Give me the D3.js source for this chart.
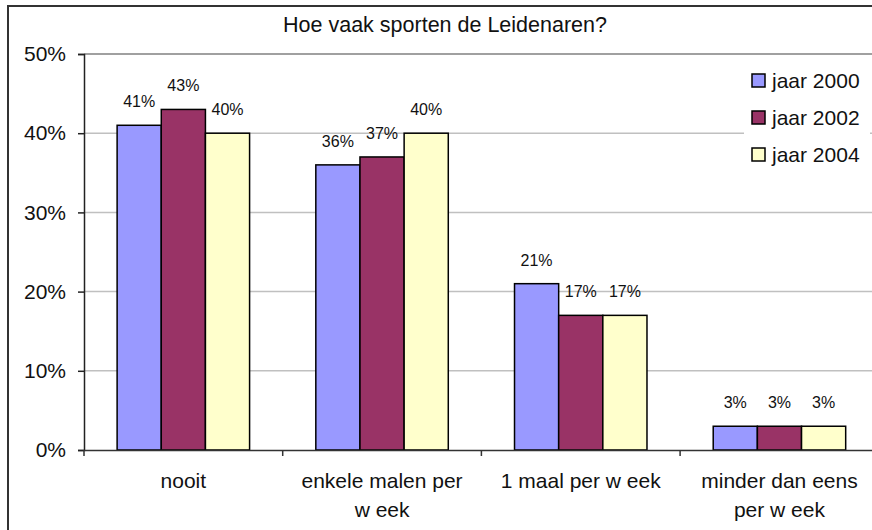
<!DOCTYPE html>
<html>
<head>
<meta charset="utf-8">
<script src="https://cdn.jsdelivr.net/npm/d3@7"></script>
<style>
  body { margin: 0; background: #fff; }
  svg { display: block; font-family: "Liberation Sans", Arial, sans-serif; }
</style>
</head>
<body>
<div class="chart"></div>
<script>
// Data
const categories = ["nooit", "enkele malen per\nw eek", "1 maal per w eek", "minder dan eens\nper w eek"];
const seriesNames = ["jaar 2000", "jaar 2002", "jaar 2004"];
const seriesColors = ["#9999ff", "#993366", "#ffffcc"];
const jaar2000 = [41, 36, 21, 3];
const jaar2002 = [43, 37, 17, 3];
const jaar2004 = [40, 40, 17, 3];
const yTicks = [0, 10, 20, 30, 40, 50];

const width = 872, height = 530;
const plot = { left: 84, top: 54, bottom: 450, catWidth: 198.7 };

const svg = d3.select(".chart").append("svg")
    .attr("width", width)
    .attr("height", height);

// outer frame
svg.append("rect")
    .attr("x", 8).attr("y", 6)
    .attr("width", 900).attr("height", 600)
    .attr("fill", "#fff")
    .attr("stroke", "#333").attr("stroke-width", 2);

// Scales
const y = d3.scaleLinear().domain([0, 50]).range([plot.bottom, plot.top]);
const x0 = d3.scaleBand()
    .domain(categories)
    .range([plot.left, plot.left + plot.catWidth * categories.length])
    .paddingInner(0).paddingOuter(0);
// gap width 150% of a bar: 3 bars + 1.5 bar gap per category
const barW = x0.bandwidth() / 4.5;
const x1 = d3.scaleBand()
    .domain(seriesNames)
    .range([barW * 0.75, barW * 3.75]);

// Gridlines
svg.append("g")
    .selectAll("line")
    .data(yTicks.filter(d => d > 0))
    .enter().append("line")
    .attr("x1", plot.left).attr("x2", width)
    .attr("y1", d => y(d)).attr("y2", d => y(d))
    .attr("stroke", d => d === 50 ? "#808080" : "#c0c0c0")
    .attr("stroke-width", 1.5);

// Y axis
const yAxis = d3.axisLeft(y)
    .tickValues(yTicks)
    .tickFormat(d => d + "%")
    .tickSize(6)
    .tickPadding(12);
const yG = svg.append("g")
    .attr("transform", `translate(${plot.left},0)`)
    .call(yAxis);
yG.select(".domain").attr("stroke", "#222").attr("stroke-width", 1.5);
yG.selectAll(".tick line").attr("stroke", "#222").attr("stroke-width", 1.5);
yG.selectAll("text")
    .attr("font-size", 21)
    .attr("font-family", "Liberation Sans, Arial, sans-serif")
    .attr("fill", "#111");

// Bars
const rows = categories.map((c, i) => ({
    cat: c,
    vals: [jaar2000[i], jaar2002[i], jaar2004[i]]
}));

const groups = svg.append("g")
    .selectAll("g")
    .data(rows)
    .enter().append("g")
    .attr("transform", d => `translate(${x0(d.cat)},0)`);

groups.selectAll("rect")
    .data(d => d.vals.map((v, j) => ({ name: seriesNames[j], v: v, j: j })))
    .enter().append("rect")
    .attr("x", d => x1(d.name))
    .attr("y", d => y(d.v))
    .attr("width", x1.bandwidth())
    .attr("height", d => y(0) - y(d.v))
    .attr("fill", d => seriesColors[d.j])
    .attr("stroke", "#000")
    .attr("stroke-width", 1.5);

groups.selectAll("text")
    .data(d => d.vals.map((v, j) => ({ name: seriesNames[j], v: v })))
    .enter().append("text")
    .attr("x", d => x1(d.name) + x1.bandwidth() / 2)
    .attr("y", d => y(d.v) - 18)
    .attr("text-anchor", "middle")
    .attr("font-size", 16)
    .attr("fill", "#111")
    .text(d => d.v + "%");

// X axis
const xAxis = d3.axisBottom(x0)
    .tickSize(0)
    .tickFormat("");
const xG = svg.append("g")
    .attr("transform", `translate(0,${plot.bottom})`)
    .call(xAxis);
xG.select(".domain").attr("stroke", "#333").attr("stroke-width", 1.5);
xG.selectAll(".tick").remove();

// category boundary ticks
svg.append("g")
    .selectAll("line")
    .data(categories)
    .enter().append("line")
    .attr("x1", d => x0(d)).attr("x2", d => x0(d))
    .attr("y1", plot.bottom).attr("y2", plot.bottom + 6)
    .attr("stroke", "#333").attr("stroke-width", 1.5);

// category labels
const catLabels = svg.append("g")
    .selectAll("text")
    .data(categories)
    .enter().append("text")
    .attr("text-anchor", "middle")
    .attr("font-size", 21)
    .attr("fill", "#111")
    .attr("transform", d => `translate(${x0(d) + x0.bandwidth() / 2},488)`);
catLabels.selectAll("tspan")
    .data(d => d.split("\n"))
    .enter().append("tspan")
    .attr("x", 0)
    .attr("dy", (d, i) => i === 0 ? 0 : 29)
    .text(d => d);

// Title
svg.append("text")
    .attr("x", 445)
    .attr("y", 32)
    .attr("text-anchor", "middle")
    .attr("font-size", 21.5)
    .attr("fill", "#111")
    .text("Hoe vaak sporten de Leidenaren?");

// Legend
const legend = svg.append("g").attr("transform", "translate(744,62)");
legend.append("rect")
    .attr("width", 126).attr("height", 114)
    .attr("fill", "#fff");
const items = legend.selectAll("g.item")
    .data(seriesNames)
    .enter().append("g")
    .attr("class", "item")
    .attr("transform", (d, i) => `translate(0,${19 + i * 37})`);
items.append("rect")
    .attr("x", 8).attr("y", -7)
    .attr("width", 13).attr("height", 13)
    .attr("fill", (d, i) => seriesColors[i])
    .attr("stroke", "#000").attr("stroke-width", 1.5);
items.append("text")
    .attr("x", 28)
    .attr("y", 7)
    .attr("font-size", 21)
    .attr("fill", "#111")
    .text(d => d);
</script>
</body>
</html>
